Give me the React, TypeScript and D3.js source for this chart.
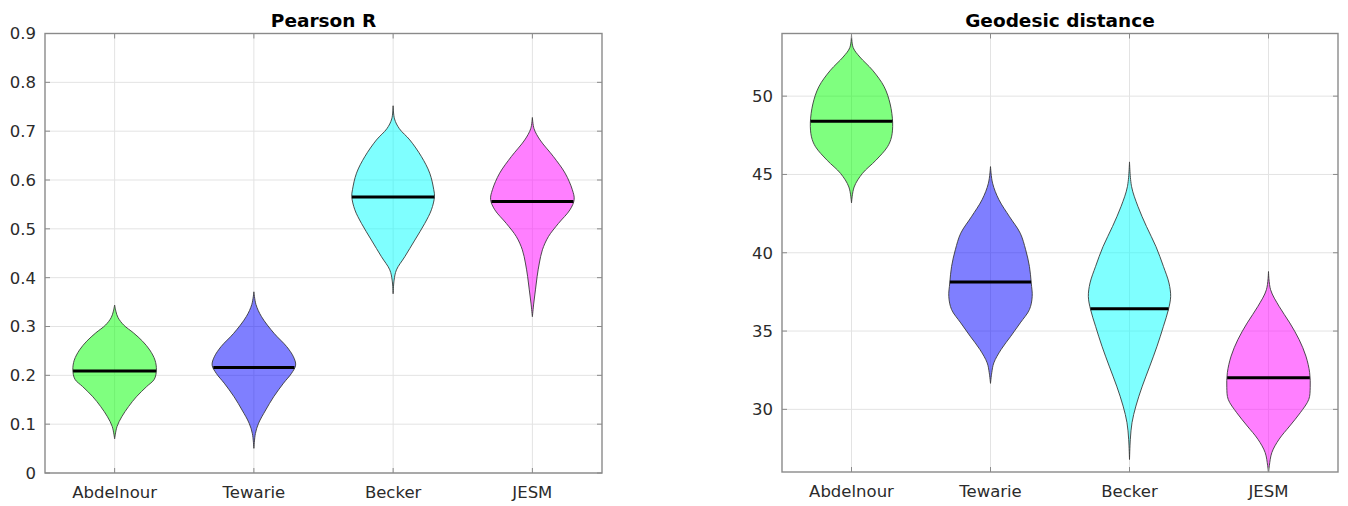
import React from 'react';
import * as d3 from 'd3';

// Categories, colours and tick values
const categories = ['Abdelnour', 'Tewarie', 'Becker', 'JESM'];
const fillColors = ['#00ff00', '#0000ff', '#00ffff', '#ff00ff'];

const pearsonTicks = [0, 0.1, 0.2, 0.3, 0.4, 0.5, 0.6, 0.7, 0.8, 0.9];
const geodesicTicks = [30, 35, 40, 45, 50];

// Medians per method
const pearsonMedians = [0.209, 0.216, 0.565, 0.556];
const geodesicMedians = [48.4, 38.13, 36.43, 32.02];

// Violin density profiles: [value, half width in category units]
const pearsonAbdelnour: [number, number][] = [
  [0.07, 0], [0.095, 0.017], [0.115, 0.051], [0.136, 0.1], [0.156, 0.156],
  [0.177, 0.23], [0.192, 0.285], [0.211, 0.3], [0.231, 0.29], [0.252, 0.252],
  [0.27, 0.2], [0.287, 0.135], [0.303, 0.065], [0.318, 0.025], [0.33, 0.01], [0.344, 0],
];
const pearsonTewarie: [number, number][] = [
  [0.0505, 0], [0.081, 0.011], [0.102, 0.034], [0.129, 0.085], [0.156, 0.142],
  [0.184, 0.213], [0.204, 0.27], [0.221, 0.3], [0.238, 0.284], [0.259, 0.235],
  [0.286, 0.145], [0.32, 0.055], [0.345, 0.015], [0.371, 0],
];
const pearsonBecker: [number, number][] = [
  [0.367, 0], [0.395, 0.007], [0.416, 0.024], [0.443, 0.084], [0.477, 0.156],
  [0.511, 0.227], [0.539, 0.275], [0.566, 0.297], [0.58, 0.292], [0.614, 0.263],
  [0.648, 0.203], [0.682, 0.12], [0.705, 0.045], [0.725, 0.01], [0.752, 0],
];
const pearsonJESM: [number, number][] = [
  [0.32, 0], [0.348, 0.01], [0.375, 0.022], [0.402, 0.034], [0.43, 0.05],
  [0.457, 0.072], [0.484, 0.115], [0.511, 0.187], [0.539, 0.27], [0.56, 0.3],
  [0.58, 0.287], [0.614, 0.235], [0.648, 0.151], [0.682, 0.055], [0.705, 0.012], [0.728, 0],
];

const geodesicAbdelnour: [number, number][] = [
  [43.18, 0], [44.2, 0.019], [45.07, 0.079], [45.9, 0.175], [46.77, 0.259],
  [47.4, 0.288], [48.3, 0.296], [49.5, 0.278], [50.6, 0.235], [51.66, 0.151],
  [52.5, 0.06], [53.1, 0.012], [53.95, 0],
];
const geodesicTewarie: [number, number][] = [
  [31.66, 0], [32.34, 0.009], [32.97, 0.024], [33.82, 0.076], [34.67, 0.146],
  [35.52, 0.214], [36.37, 0.28], [37.2, 0.3], [38.07, 0.293], [39.13, 0.28],
  [40.19, 0.253], [41.25, 0.214], [42.3, 0.137], [43.38, 0.061], [44.44, 0.015], [45.5, 0],
];
const geodesicBecker: [number, number][] = [
  [26.8, 0], [28.09, 0.006], [29.15, 0.018], [30.21, 0.046], [31.48, 0.092],
  [32.76, 0.146], [34.03, 0.198], [35.3, 0.244], [36.37, 0.28], [37.2, 0.296],
  [38.07, 0.284], [39.13, 0.244], [40.4, 0.19], [41.68, 0.122], [42.95, 0.061],
  [44.22, 0.015], [45.8, 0],
];
const geodesicJESM: [number, number][] = [
  [25.9, 0], [26.4, 0.006], [27.24, 0.024], [28.09, 0.076], [28.94, 0.153],
  [29.79, 0.229], [30.64, 0.29], [31.38, 0.3], [32.34, 0.296], [33.4, 0.269],
  [34.46, 0.22], [35.52, 0.153], [36.58, 0.076], [37.64, 0.015], [38.8, 0],
];

const pearsonProfiles = [pearsonAbdelnour, pearsonTewarie, pearsonBecker, pearsonJESM];
const geodesicProfiles = [geodesicAbdelnour, geodesicTewarie, geodesicBecker, geodesicJESM];

const FONT = '"DejaVu Sans", Verdana, sans-serif';
const AXIS_COLOR = '#8a8a8a';
const TEXT_COLOR = '#2b2b2b';
const GRID_COLOR = '#e3e3e3';

interface PanelProps {
  id: string;
  title: string;
  left: number;
  right: number;
  top: number;
  bottom: number;
  domain: [number, number];
  ticks: number[];
  profiles: [number, number][][];
  medians: number[];
  labelGap: number;
}

function Panel({ id, title, left, right, top, bottom, domain, ticks, profiles, medians, labelGap }: PanelProps) {
  const x = d3.scaleLinear().domain([0.5, categories.length + 0.5]).range([left, right]);
  const y = d3.scaleLinear().domain(domain).range([bottom, top]);
  const tickLen = 5;
  const fmt = (v: number) => String(+v.toFixed(2));

  return (
    <g>
      <defs>
        <clipPath id={`clip-${id}`}>
          <rect x={left} y={top} width={right - left} height={bottom - top} />
        </clipPath>
      </defs>
      <rect x={left} y={top} width={right - left} height={bottom - top} fill="#fff" />

      {/* grid */}
      {ticks.map((t) => (
        <line key={`gy${t}`} x1={left} x2={right} y1={y(t)} y2={y(t)} stroke={GRID_COLOR} strokeWidth={1} />
      ))}
      {categories.map((c, i) => (
        <line key={`gx${c}`} x1={x(i + 1)} x2={x(i + 1)} y1={top} y2={bottom} stroke={GRID_COLOR} strokeWidth={1} />
      ))}

      {/* violins */}
      <g clipPath={`url(#clip-${id})`}>
        {profiles.map((prof, i) => {
          const c = i + 1;
          const area = d3
            .area<[number, number]>()
            .y((d) => y(d[0]))
            .x0((d) => x(c - d[1]))
            .x1((d) => x(c + d[1]))
            .curve(d3.curveCatmullRom.alpha(0.5));
          const hwAt = d3.scaleLinear().domain(prof.map((d) => d[0])).range(prof.map((d) => d[1]));
          const m = medians[i];
          const hw = hwAt(m);
          return (
            <g key={categories[i]}>
              <path d={area(prof) || ''} fill={fillColors[i]} fillOpacity={0.5} stroke="#3a3a3a" strokeWidth={0.9} />
              <line x1={x(c - hw)} x2={x(c + hw)} y1={y(m)} y2={y(m)} stroke="#000" strokeWidth={3} />
            </g>
          );
        })}
      </g>

      {/* ticks */}
      {ticks.map((t) => (
        <g key={`ty${t}`}>
          <line x1={left} x2={left + tickLen} y1={y(t)} y2={y(t)} stroke={AXIS_COLOR} strokeWidth={1} />
          <line x1={right} x2={right - tickLen} y1={y(t)} y2={y(t)} stroke={AXIS_COLOR} strokeWidth={1} />
          <text
            x={left - labelGap}
            y={y(t)}
            dy="0.36em"
            textAnchor="end"
            fontFamily={FONT}
            fontSize={16.5}
            fill={TEXT_COLOR}
          >
            {fmt(t)}
          </text>
        </g>
      ))}
      {categories.map((c, i) => (
        <g key={`tx${c}`}>
          <line x1={x(i + 1)} x2={x(i + 1)} y1={bottom} y2={bottom - tickLen} stroke={AXIS_COLOR} strokeWidth={1} />
          <line x1={x(i + 1)} x2={x(i + 1)} y1={top} y2={top + tickLen} stroke={AXIS_COLOR} strokeWidth={1} />
          <text x={x(i + 1)} y={bottom + 25} textAnchor="middle" fontFamily={FONT} fontSize={16.5} fill={TEXT_COLOR}>
            {c}
          </text>
        </g>
      ))}

      {/* box */}
      <rect x={left} y={top} width={right - left} height={bottom - top} fill="none" stroke={AXIS_COLOR} strokeWidth={1.4} />

      <text
        x={(left + right) / 2}
        y={top - 7}
        textAnchor="middle"
        fontFamily={FONT}
        fontSize={18.5}
        fontWeight="bold"
        fill="#000"
      >
        {title}
      </text>
    </g>
  );
}

export default function App() {
  return (
    <svg
      width={1348}
      height={506}
      viewBox="0 0 1348 506"
      style={{ position: 'absolute', left: 0, top: 0, display: 'block', background: '#fff' }}
    >
      <rect width={1348} height={506} fill="#fff" />
      <Panel
        id="pearson"
        title="Pearson R"
        left={45}
        right={602}
        top={33.5}
        bottom={473}
        domain={[0, 0.9]}
        ticks={pearsonTicks}
        profiles={pearsonProfiles}
        medians={pearsonMedians}
        labelGap={9}
      />
      <Panel
        id="geodesic"
        title="Geodesic distance"
        left={782}
        right={1338}
        top={33.5}
        bottom={472}
        domain={[26, 54]}
        ticks={geodesicTicks}
        profiles={geodesicProfiles}
        medians={geodesicMedians}
        labelGap={9}
      />
    </svg>
  );
}
